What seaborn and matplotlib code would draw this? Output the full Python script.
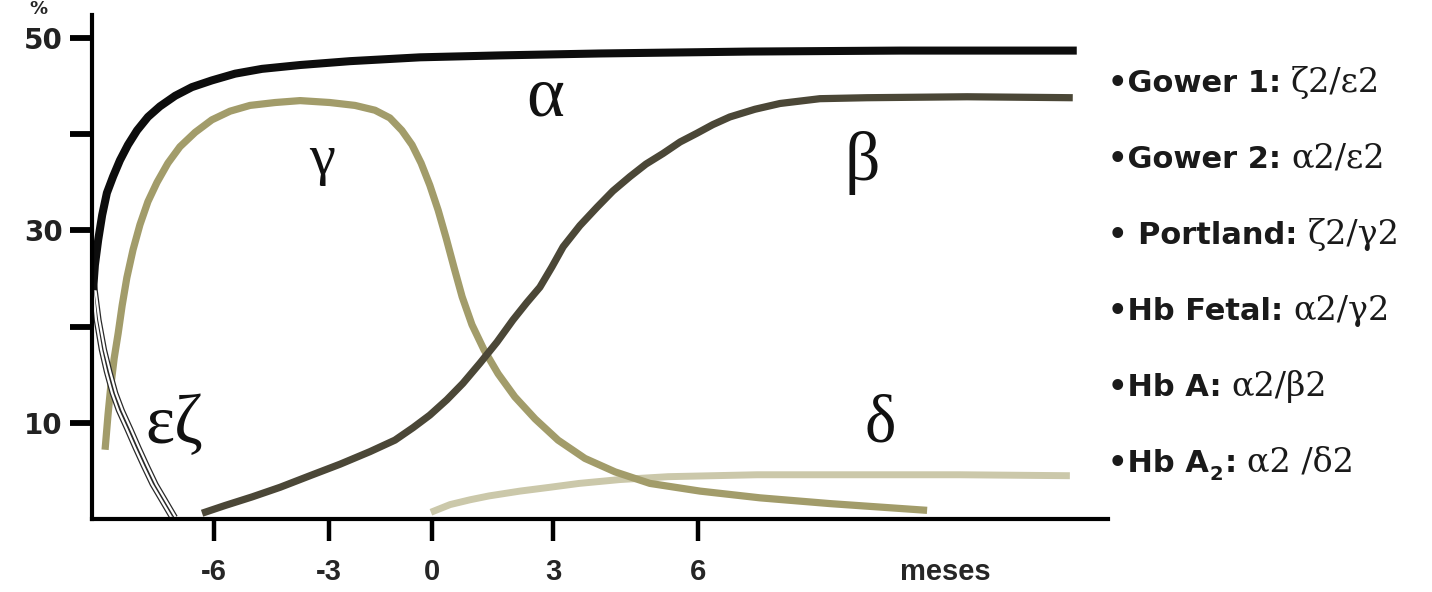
import matplotlib
matplotlib.use("Agg")
import matplotlib.pyplot as plt
from matplotlib.transforms import IdentityTransform
import seaborn as sns

# ---- axis definitions (months relative to birth) ----
x_tick_pos = [-6.0, -2.83, 0.0, 3.33, 7.32]
x_tick_labels = ["-6", "-3", "0", "3", "6"]
y_ticks = [10, 20, 30, 40, 50]
y_tick_labels = ["10", "", "30", "", "50"]

# ---- globin chain curves (% of total) ----
alpha_x = [-9.33, -9.28, -9.19, -9.08, -8.95, -8.78, -8.59, -8.37, -8.12, -7.82, -7.49, -7.07,
           -6.61, -6.06, -5.42, -4.68, -3.63, -2.26, -0.33, 1.87, 4.62, 8.75, 12.88, 17.75]
alpha_y = [23.8, 26.4, 29.0, 31.6, 33.9, 35.6, 37.3, 38.9, 40.4, 41.8, 42.9, 44.0,
           44.9, 45.6, 46.3, 46.8, 47.2, 47.6, 48.0, 48.2, 48.4, 48.6, 48.7, 48.7]

gamma_x = [-9.00, -8.92, -8.84, -8.75, -8.64, -8.53, -8.40, -8.23, -8.04, -7.82, -7.57, -7.27,
           -6.94, -6.52, -6.06, -5.56, -5.01, -4.32, -3.63, -2.81, -2.12, -1.57, -1.16, -0.83,
           -0.55, -0.30, -0.06, 0.17, 0.39, 0.61, 0.83, 1.10, 1.43, 1.82, 2.28, 2.84, 3.47,
           4.21, 5.04, 6.00, 7.38, 9.03, 10.96, 13.63]
gamma_y = [7.2, 10.8, 13.9, 16.7, 19.3, 22.2, 25.1, 28.0, 30.6, 33.0, 35.0, 37.0,
           38.7, 40.2, 41.5, 42.4, 43.0, 43.3, 43.5, 43.3, 43.0, 42.5, 41.7, 40.4,
           38.9, 37.0, 34.7, 32.1, 29.2, 26.1, 23.1, 20.2, 17.6, 15.1, 12.7, 10.4, 8.2,
           6.3, 4.9, 3.7, 2.9, 2.2, 1.6, 0.9]

beta_x = [-6.33, -5.70, -4.95, -4.18, -3.36, -2.53, -1.71, -1.02, -0.52, -0.06, 0.41, 0.85,
          1.32, 1.79, 2.23, 2.61, 2.97, 3.30, 3.61, 4.07, 4.54, 4.98, 5.45, 5.89, 6.36, 6.83,
          7.29, 7.73, 8.20, 8.89, 9.58, 10.68, 11.97, 14.73, 17.64]
beta_y = [0.6, 1.4, 2.3, 3.3, 4.5, 5.7, 7.0, 8.2, 9.5, 10.8, 12.4, 14.1,
          16.2, 18.4, 20.7, 22.5, 24.1, 26.2, 28.3, 30.5, 32.4, 34.1, 35.6, 36.9, 38.0, 39.2,
          40.1, 41.0, 41.8, 42.6, 43.2, 43.7, 43.8, 43.9, 43.8]

delta_x = [-0.03, 0.50, 1.05, 1.57, 2.42, 3.25, 4.05, 5.17, 6.50, 8.95, 11.40, 14.53, 17.56]
delta_y = [0.7, 1.5, 2.0, 2.4, 2.9, 3.3, 3.7, 4.1, 4.4, 4.6, 4.6, 4.6, 4.5]

epsilon_x = [-9.36, -9.25, -9.11, -8.97, -8.81, -8.64, -8.40, -8.18, -7.95, -7.71, -7.46, -7.18]
epsilon_y = [24.8, 20.7, 17.6, 15.3, 13.1, 11.3, 9.3, 7.4, 5.5, 3.6, 2.0, 0.2]

zeta_x = [-9.30, -9.16, -9.01, -8.86, -8.70, -8.52, -8.28, -8.06, -7.83, -7.59, -7.34, -7.06]
zeta_y = [24.8, 20.7, 17.6, 15.3, 13.1, 11.3, 9.3, 7.4, 5.5, 3.6, 2.0, 0.2]

# ---- curve name labels: (text, x, y) ----
curve_labels = [("α", 3.11, 43.8), ("γ", -3.03, 37.3), ("β", 11.84, 37.0),
                ("δ", 12.33, 9.8), ("εζ", -7.10, 9.6)]
label_sizes = {"α": 52, "γ": 42, "β": 50, "δ": 48, "εζ": 50}

# ---- hemoglobin types listed at the right ----
hb_names = ["•Gower 1:", "•Gower 2:", "• Portland:", "•Hb Fetal:", "•Hb A:", "•Hb A"]
hb_formulas = ["ζ2/ε2", "α2/ε2", "ζ2/γ2", "α2/γ2", "α2/β2", "α2 /δ2"]

W, H = 1432, 592
sns.set_theme(style="white")
plt.rcParams["font.family"] = ["DejaVu Sans"]

fig = plt.figure(figsize=(W / 100, H / 100), dpi=100)
fig.patch.set_facecolor("white")
ax = fig.add_axes([92 / W, 73 / H, (1108 - 92) / W, (519 - 15) / H])
ax.set_facecolor("white")

c_alpha = "#0d0d0d"
c_gamma = "#a29c6a"
c_beta = "#4b4737"
c_delta = "#cbc8aa"

common = dict(ax=ax, sort=False, estimator=None, legend=False)
line_kw = dict(solid_capstyle="butt", solid_joinstyle="round")
sns.lineplot(x=delta_x, y=delta_y, color=c_delta, linewidth=5.0, **line_kw, **common)
sns.lineplot(x=gamma_x, y=gamma_y, color=c_gamma, linewidth=5.2, **line_kw, **common)
sns.lineplot(x=beta_x, y=beta_y, color=c_beta, linewidth=5.2, **line_kw, **common)
# hollow (outlined) embryonic chains
for ex, ey in [(epsilon_x, epsilon_y), (zeta_x, zeta_y)]:
    sns.lineplot(x=ex, y=ey, color="#2a2a2a", linewidth=3.4, **line_kw, **common)
for ex, ey in [(epsilon_x, epsilon_y), (zeta_x, zeta_y)]:
    sns.lineplot(x=ex, y=ey, color="white", linewidth=1.6, **line_kw, **common)
sns.lineplot(x=alpha_x, y=alpha_y, color=c_alpha, linewidth=5.8, **line_kw, **common)

for txt, lx, ly in curve_labels:
    ax.text(lx, ly, txt, ha="center", va="center", fontsize=label_sizes[txt],
            family=["Liberation Serif", "DejaVu Serif"], color="#111111")

ax.set_xlim(-9.36, 18.61)
ax.set_ylim(0, 52.4)
for side in ["top", "right"]:
    ax.spines[side].set_visible(False)
for side in ["left", "bottom"]:
    ax.spines[side].set_color("black")
    ax.spines[side].set_linewidth(3.0)

tick_font = ["Liberation Sans", "DejaVu Sans"]
ax.set_xticks(x_tick_pos)
ax.set_xticklabels(x_tick_labels, family=tick_font, fontsize=21, fontweight="bold", color="#262626")
ax.set_yticks(y_ticks)
ax.set_yticklabels(y_tick_labels, fontsize=20, fontweight="bold", color="#222222")
ax.tick_params(axis="x", bottom=True, direction="out", length=16, width=3.2, pad=12, color="black")
ax.tick_params(axis="y", left=True, direction="out", length=16, width=4.2, pad=5, color="black")
ax.set_xlabel("meses", family=tick_font, fontsize=21, fontweight="bold", color="#262626")
ax.xaxis.set_label_coords(0.840, -0.078)
ax.set_ylabel("")
ax.grid(False)

fig.text(38 / W, 1 - 9 / H, "%", ha="center", va="center", fontsize=13, fontweight="bold")

# right-hand list of hemoglobins: bold sans name followed by serif chain formula
renderer = fig.canvas.get_renderer()
sans_b = dict(family=["DejaVu Sans"], fontweight="bold", fontsize=22, color="#1a1a1a")
serif = dict(family=["DejaVu Serif"], fontsize=24, color="#1a1a1a")
baselines = [92, 168, 244, 320, 396, 472]
x0 = 1108
for i, (name, formula) in enumerate(zip(hb_names, hb_formulas)):
    yb = H - baselines[i]
    t = fig.text(x0, yb, name, transform=IdentityTransform(), ha="left", va="baseline", **sans_b)
    x = t.get_window_extent(renderer).x1
    if i == 5:
        sub = fig.text(x + 1, yb - 8, "2", transform=IdentityTransform(), ha="left", va="baseline",
                       family=["DejaVu Sans"], fontweight="bold", fontsize=14, color="#1a1a1a")
        x = sub.get_window_extent(renderer).x1
        col = fig.text(x + 1, yb, ":", transform=IdentityTransform(), ha="left", va="baseline", **sans_b)
        x = col.get_window_extent(renderer).x1
    fig.text(x + 10, yb, formula, transform=IdentityTransform(), ha="left", va="baseline", **serif)

fig.savefig("out.png", dpi=100, facecolor="white")
